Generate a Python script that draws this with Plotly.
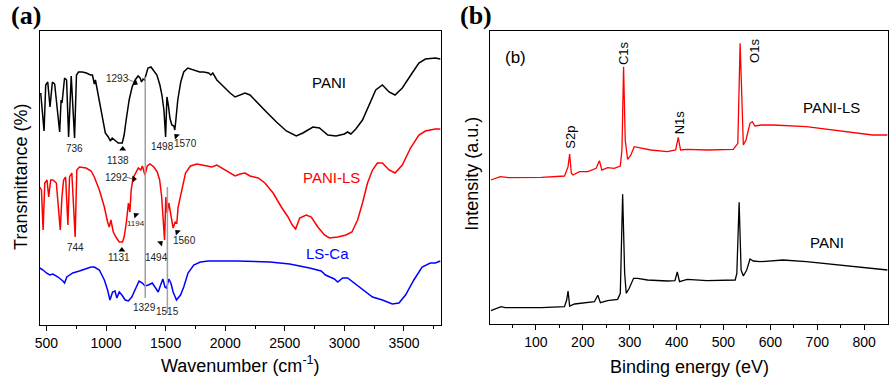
import plotly.graph_objects as go

# ---------------- Panel (a): FTIR spectra (arbitrary transmittance units) ----------------
wn_pani = [452, 480, 494, 511, 530, 550, 569, 594, 611, 623, 631, 652, 669, 686, 708, 736, 752, 769, 802, 836,
           869, 886, 902, 911, 936, 961, 994, 1019, 1036, 1052, 1069, 1102, 1136, 1152, 1169, 1194, 1219, 1244,
           1269, 1286, 1298, 1311, 1323, 1336, 1352, 1377, 1402, 1427, 1452, 1469, 1486, 1500, 1511, 1523, 1536,
           1552, 1569, 1577, 1586, 1602, 1627, 1652, 1686, 1736, 1786, 1819, 1861, 1880, 1896, 1930, 1986, 2041,
           2083, 2125, 2166, 2208, 2263, 2346, 2430, 2513, 2596, 2652, 2736, 2791, 2861, 2930, 3000, 3027, 3055,
           3096, 3152, 3208, 3263, 3319, 3375, 3425, 3486, 3569, 3625, 3680, 3763, 3805]
t_pani = [232, 194, 240, 243, 218, 243, 241, 215, 193, 225, 222, 247, 245, 188, 249, 187, 250, 253, 253, 252,
          250, 250, 241, 245, 230, 215, 192, 188, 184, 187, 185, 182, 182, 190, 205, 225, 238, 245,
          249, 247, 243, 246, 245, 251, 257, 258, 254, 250, 240, 230, 215, 188, 228, 220, 207,
          200, 199, 195, 205, 225, 243, 253, 257, 255, 253, 253, 252, 250, 252, 245, 238, 232,
          228, 230, 232, 230, 223, 213, 203, 194, 189, 192, 198, 197, 190, 189, 191, 193, 191,
          196, 205, 220, 235, 240, 233, 230, 237, 252, 262, 266, 267, 266]

wn_panils = [444, 458, 472, 486, 505, 519, 536, 555, 583, 605, 616, 630, 644, 661, 680, 694, 713, 741, 755, 777,
             833, 875, 902, 944, 986, 1013, 1027, 1041, 1061, 1083, 1111, 1138, 1152, 1171, 1188, 1200, 1211,
             1227, 1250, 1271, 1291, 1305, 1327, 1346, 1369, 1402, 1430, 1450, 1467, 1480, 1491, 1502, 1513,
             1527, 1546, 1563, 1580, 1594, 1605, 1633, 1667, 1708, 1763, 1805, 1888, 1930, 1986, 2041, 2083,
             2125, 2166, 2208, 2277, 2333, 2402, 2471, 2527, 2563, 2591, 2625, 2680, 2722, 2777, 2833, 2875,
             2944, 3013, 3063, 3111, 3152, 3194, 3236, 3277, 3319, 3375, 3425, 3486, 3555, 3625, 3680, 3763, 3805]
t_panils = [138, 135, 95, 142, 145, 128, 145, 145, 142, 112, 95, 128, 145, 148, 100, 148, 152, 88, 155, 158,
            157, 154, 148, 135, 118, 103, 98, 105, 93, 88, 83, 83, 88, 103, 122, 113, 135,
            147, 153, 157, 155, 159, 150, 159, 161, 158, 153, 145, 128, 105, 85, 128, 112,
            122, 108, 97, 103, 102, 118, 135, 152, 159, 161, 160, 158, 160, 156, 152, 149,
            151, 152, 149, 147, 142, 132, 118, 108, 100, 96, 107, 110, 108, 98, 90, 87,
            88, 90, 93, 105, 122, 142, 155, 162, 162, 155, 152, 160, 177, 190, 194, 196, 196]

wn_lsca = [444, 472, 500, 527, 555, 597, 638, 652, 671, 721, 777, 833, 875, 902, 944, 986, 1013, 1033, 1055,
           1075, 1091, 1111, 1133, 1161, 1188, 1216, 1250, 1277, 1305, 1327, 1355, 1388, 1416, 1438, 1458,
           1477, 1494, 1508, 1527, 1544, 1563, 1591, 1625, 1652, 1688, 1736, 1791, 1861, 1958, 2097, 2375,
           2541, 2708, 2805, 2842, 2875, 2916, 2944, 2986, 3027, 3083, 3152, 3236, 3319, 3402, 3458, 3513,
           3583, 3652, 3721, 3763, 3805]
t_lsca = [57, 55, 52, 50, 51, 48, 44, 42, 48, 52, 54, 56, 58, 58, 55, 45, 35, 25, 33,
          34, 27, 33, 30, 25, 24, 28, 38, 44, 42, 39, 40, 42, 37, 33, 40,
          46, 38, 37, 46, 42, 33, 25, 30, 38, 52, 60, 63, 64, 64, 64, 63,
          61, 57, 54, 50, 48, 46, 43, 47, 47, 42, 35, 28, 25, 21, 22, 30,
          45, 58, 62, 62, 64]

# reference lines (wavenumber, from, to)
ref_wn = [1329, 1515]
ref_top = [248, 138]
ref_bot = [27, 12]

# peak labels
pk_text = ['736', '1138', '1293', '1498', '1570', '1292', '1194', '744', '1131', '1494', '1560', '1329', '1515']
pk_x = [733, 1102, 1100, 1477, 1666, 1086, 1255, 744, 1111, 1422, 1658, 1325, 1519]
pk_y = [177, 165, 246, 179, 182, 148, 102, 78, 68, 68, 85, 18, 14]
pk_size = [10, 10, 10, 10, 10, 10, 8, 10, 10, 10, 10, 10, 10]

# pointer triangles (x, y, angle)
tri_x = [1140, 1246, 1590, 1234, 1250, 1133, 1458, 1598]
tri_y = [176, 242, 189, 146, 110, 75, 82, 93]
tri_ang = [0, 120, -45, 90, -45, 0, 45, -45]

# ---------------- Panel (b): XPS survey ----------------
be_panils = [4, 24, 42, 112, 161, 168.6, 172, 175.6, 179, 193, 211, 228.5, 235.5, 240.6, 253, 267, 280, 283.5,
             287, 290.5, 295.6, 302.6, 309.6, 323.8, 345, 380, 398, 403.6, 408.5, 422.6, 465, 521, 530.6, 535.5,
             539, 542.4, 548, 556.6, 561.5, 567, 581, 606, 676.7, 747, 817.7, 850]
i_panils = [144, 147.3, 146.3, 146.7, 148, 157.3, 170, 150.7, 149, 152.3, 152.3, 155.7, 163.3, 154, 156.3, 155.7,
            158, 174, 257.3, 184, 164.7, 169, 177.3, 175.7, 174, 172.3, 174, 186.7, 174, 174.7, 174, 174.7,
            180.7, 280.7, 224, 179, 184, 200.7, 202.3, 198, 199, 199, 197.3, 193.3, 189, 189]

be_pani = [4, 16.8, 25.9, 34.4, 112, 161, 165.6, 168.6, 172, 182.6, 196.7, 224.9, 232, 237.6, 253, 274.4, 280,
           285, 289.3, 292.6, 299, 308.3, 316.8, 338, 380, 396.4, 401.5, 406.3, 422.6, 465, 525, 528.5, 533.4,
           537.6, 542.4, 549.6, 556.6, 563.6, 577.8, 627, 676.7, 747, 817.7, 850]
i_pani = [13.3, 15.7, 17.3, 16.3, 16.3, 17.3, 24, 33, 18, 20, 20.7, 22.3, 28.7, 21.3, 23.3, 24.7, 30.7,
          129.7, 50.7, 30.7, 35.7, 45.7, 45.7, 44, 43, 43.3, 52, 42.3, 44.7, 43.3, 44, 50.7, 121.7,
          54, 48, 54, 65, 63, 62.3, 64, 62.3, 59, 55.7, 54]

el_text = ['S2p', 'C1s', 'N1s', 'O1s']
el_x = [172, 288, 408, 567]
el_y = [187, 271, 202, 273]

FONT = 'Arial, Liberation Sans, sans-serif'
W, H = 889, 383

fig = go.Figure()

# panel (a) curves
fig.add_trace(go.Scatter(x=wn_pani, y=t_pani, mode='lines', line=dict(color='black', width=1.5),
                         xaxis='x', yaxis='y', showlegend=False))
fig.add_trace(go.Scatter(x=wn_panils, y=t_panils, mode='lines', line=dict(color='#ff0000', width=1.5),
                         xaxis='x', yaxis='y', showlegend=False))
fig.add_trace(go.Scatter(x=wn_lsca, y=t_lsca, mode='lines', line=dict(color='#0000ff', width=1.5),
                         xaxis='x', yaxis='y', showlegend=False))
for wv, yt, yb in zip(ref_wn, ref_top, ref_bot):
    fig.add_trace(go.Scatter(x=[wv, wv], y=[yb, yt], mode='lines', line=dict(color='#a0a0a0', width=1.5),
                             xaxis='x', yaxis='y', showlegend=False))
# leader lines for 1293 / 1292
fig.add_trace(go.Scatter(x=[1180, 1236], y=[246, 243], mode='lines', line=dict(color='#555', width=0.8),
                         xaxis='x', yaxis='y', showlegend=False))
fig.add_trace(go.Scatter(x=[1166, 1222], y=[148, 146], mode='lines', line=dict(color='#555', width=0.8),
                         xaxis='x', yaxis='y', showlegend=False))
fig.add_trace(go.Scatter(x=tri_x, y=tri_y, mode='markers',
                         marker=dict(symbol='triangle-up', size=6, color='black', angle=tri_ang),
                         xaxis='x', yaxis='y', showlegend=False))

# panel (b) curves
fig.add_trace(go.Scatter(x=be_panils, y=i_panils, mode='lines', line=dict(color='#ff0000', width=1.3),
                         xaxis='x2', yaxis='y2', showlegend=False))
fig.add_trace(go.Scatter(x=be_pani, y=i_pani, mode='lines', line=dict(color='black', width=1.3),
                         xaxis='x2', yaxis='y2', showlegend=False))

ann = []
for t, x, y, s in zip(pk_text, pk_x, pk_y, pk_size):
    ann.append(dict(text=t, x=x, y=y, xref='x', yref='y', showarrow=False,
                    font=dict(size=s, color='#222', family=FONT)))
ann += [
    dict(text='PANI', x=2869, y=242, xref='x', yref='y', showarrow=False, font=dict(size=15, color='black', family=FONT)),
    dict(text='PANI-LS', x=2890, y=148, xref='x', yref='y', showarrow=False, font=dict(size=15, color='#ff0000', family=FONT)),
    dict(text='LS-Ca', x=2858, y=72, xref='x', yref='y', showarrow=False, font=dict(size=15, color='#0000ff', family=FONT)),
]
for t, x, y in zip(el_text, el_x, el_y):
    ann.append(dict(text=t, x=x, y=y, xref='x2', yref='y2', showarrow=False, textangle=-90,
                    font=dict(size=13, color='black', family=FONT)))
ann += [
    dict(text='(b)', x=57, y=266, xref='x2', yref='y2', showarrow=False, font=dict(size=17, color='black', family=FONT)),
    dict(text='PANI-LS', x=731, y=216, xref='x2', yref='y2', showarrow=False, font=dict(size=15, color='black', family=FONT)),
    dict(text='PANI', x=720, y=82, xref='x2', yref='y2', showarrow=False, font=dict(size=15, color='black', family=FONT)),
]
# panel letters and axis titles (paper coords)
def P(px, py):
    return px / W, 1 - py / H

for txt, px, py, sz, ang, fam in [
    ('<b>(a)</b>', 21, 16, 26, 0, 'Times New Roman, Liberation Serif, serif'),
    ('<b>(b)</b>', 474, 16, 26, 0, 'Times New Roman, Liberation Serif, serif'),
    ('Wavenumber (cm<sup>-1</sup>)', 237, 364, 18, 0, FONT),
    ('Binding energy (eV)', 689, 367, 18, 0, FONT),
    ('Transmittance (%)', 16, 177, 18, -90, FONT),
    ('Intensity (a.u.)', 470, 174, 18, -90, FONT),
]:
    x, y = P(px, py)
    ann.append(dict(text=txt, x=x, y=y, xref='paper', yref='paper', showarrow=False, textangle=ang,
                    xanchor='center', yanchor='middle', font=dict(size=sz, color='black', family=fam)))

axis_common = dict(showgrid=False, zeroline=False, showline=True, linecolor='black', linewidth=1.3, mirror=True)
ya0, ya1 = 1 - 325 / H, 1 - 31 / H
yb0, yb1 = 1 - 324 / H, 1 - 31 / H

fig.update_layout(
    width=W, height=H, autosize=False,
    margin=dict(l=0, r=0, t=0, b=0),
    paper_bgcolor='white', plot_bgcolor='white',
    annotations=ann,
    xaxis=dict(domain=[35 / W, 439 / W], range=[444, 3811], anchor='y',
               tickvals=[500, 1000, 1500, 2000, 2500, 3000, 3500], ticks='outside', ticklen=5, tickwidth=1.3,
               tickcolor='black', minor=dict(tickvals=[750, 1250, 1750, 2250, 2750, 3250, 3750], ticks='outside',
                                             ticklen=3, tickwidth=1.3, tickcolor='black'),
               tickfont=dict(size=14, color='black', family=FONT), **axis_common),
    yaxis=dict(domain=[ya0, ya1], range=[0, 294], anchor='x', showticklabels=False, ticks='', **axis_common),
    xaxis2=dict(domain=[488.7 / W, 888.6 / W], range=[3, 850], anchor='y2',
                tickvals=[100, 200, 300, 400, 500, 600, 700, 800], ticks='outside', ticklen=5, tickwidth=1.3,
                tickcolor='black', minor=dict(tickvals=[50, 150, 250, 350, 450, 550, 650, 750], ticks='outside',
                                              ticklen=3, tickwidth=1.3, tickcolor='black'),
                tickfont=dict(size=14, color='black', family=FONT), **axis_common),
    yaxis2=dict(domain=[yb0, yb1], range=[0, 293], anchor='x2', showticklabels=False, ticks='', **axis_common),
)

fig.write_html('out.html')
